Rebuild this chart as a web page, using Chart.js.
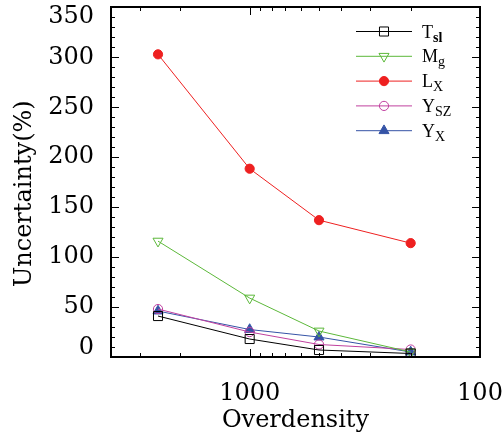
<!DOCTYPE html>
<html>
<head>
<meta charset="utf-8">
<script src="https://cdn.jsdelivr.net/npm/chart.js@4"></script>
<style>
  html, body { margin: 0; padding: 0; background: #fff; }
  canvas { display: block; }
</style>
</head>
<body>
<canvas id="chart" width="504" height="439"></canvas>
<script>
// values
const overdensity = [2500, 1000, 500, 200];
const tSl = [41, 18, 7, 3.5];
const mGas = [116, 59, 26, 5];
const lX = [303, 188.5, 137, 114];
const ySz = [48, 25, 12.5, 7.5];
const yX = [46, 27.5, 20, 5];

const labelMain = ["T", "M", "L", "Y", "Y"];
const labelSub = ["sl", "g", "X", "SZ", "X"];

const xTicks = [3000, 2000, 1000, 900, 800, 700, 600, 500, 400, 300, 200, 100];
const xLabels = [1000, 100];
const yLabelStep = 50;

const serif = "'DejaVu Serif', serif";
const open = "rgba(0,0,0,0)";

const series = (label, data, color, style, fill, radius, rotation) => ({
    label: label,
    data: data.map((v, i) => ({ x: overdensity[i], y: v })),
    borderColor: color,
    borderWidth: 1,
    pointStyle: style,
    pointRadius: radius,
    pointRotation: rotation || 0,
    pointBackgroundColor: fill,
    pointBorderColor: color,
    pointBorderWidth: 1,
    tension: 0,
});

const datasets = [
    series("Tsl", tSl, "#000000", "rect", open, 6.4),
    series("Mg", mGas, "#5cb83a", "triangle", open, 5.8, 180),
    series("LX", lX, "#ee2020", "circle", "#ee2020", 4.6),
    series("YSZ", ySz, "#c0409f", "circle", open, 4.6),
    series("YX", yX, "#3553a6", "triangle", "#3553a6", 5.8),
];

// box round the plot with inward ticks on all four sides, then the legend
const frame = {
    id: "frame",
    afterDraw(chart) {
        const ctx = chart.ctx;
        const x = chart.scales.x;
        const y = chart.scales.y;
        const L = Math.round(x.getPixelForValue(x.max)), R = Math.round(x.getPixelForValue(x.min));
        const T = Math.round(y.getPixelForValue(y.max)), B = Math.round(y.getPixelForValue(y.min));
        ctx.save();
        ctx.fillStyle = "#000";
        x.ticks.forEach(t => {
            const px = Math.round(x.getPixelForValue(t.value));
            const len = xLabels.includes(Math.round(t.value)) ? 8 : 4;
            ctx.fillRect(px, B - len, 1, len);
            ctx.fillRect(px, T, 1, len);
        });
        y.ticks.forEach(t => {
            const py = Math.round(y.getPixelForValue(t.value));
            const len = t.value % yLabelStep === 0 ? 8 : 4;
            ctx.fillRect(L, py, len, 1);
            ctx.fillRect(R - len, py, len, 1);
        });
        ctx.fillRect(L - 1, T - 1, R - L + 2, 2);
        ctx.fillRect(L - 1, B - 1, R - L + 2, 2);
        ctx.fillRect(L - 1, T - 1, 2, B - T + 2);
        ctx.fillRect(R - 1, T - 1, 2, B - T + 2);

        chart.data.datasets.forEach((ds, i) => {
            const yy = 31.5 + i * 24.8;
            ctx.strokeStyle = ds.borderColor;
            ctx.lineWidth = 1;
            ctx.beginPath();
            ctx.moveTo(356, yy);
            ctx.lineTo(412, yy);
            ctx.stroke();
            ctx.fillStyle = ds.pointBackgroundColor;
            Chart.helpers.drawPoint(ctx, {
                pointStyle: ds.pointStyle,
                radius: ds.pointRadius,
                rotation: ds.pointRotation,
                borderWidth: 1,
            }, 384, yy);
            ctx.fillStyle = "#000";
            ctx.textBaseline = "alphabetic";
            ctx.font = "18px 'Liberation Serif'";
            ctx.fillText(labelMain[i], 422, yy + 6);
            const w = ctx.measureText(labelMain[i]).width;
            ctx.font = (i === 0 ? "bold " : "") + "14px 'Liberation Serif'";
            ctx.fillText(labelSub[i], 422 + w, yy + 10);
        });
        ctx.restore();
    }
};

new Chart(document.getElementById("chart"), {
    type: "line",
    data: { datasets: datasets },
    options: {
        responsive: false,
        animation: false,
        devicePixelRatio: 1,
        layout: { padding: { top: 5, right: 24, left: 0, bottom: 0 } },
        plugins: { legend: { display: false }, tooltip: { enabled: false } },
        scales: {
            x: {
                type: "logarithmic",
                reverse: true,
                min: 100,
                max: 4000,
                afterBuildTicks: s => { s.ticks = xTicks.map(v => ({ value: v })); },
                afterFit: s => { s.height = 82; s.paddingLeft = 0; s.paddingRight = 0; },
                grid: { display: false },
                border: { display: false },
                ticks: {
                    autoSkip: false,
                    maxRotation: 0,
                    padding: 14,
                    color: "#000",
                    font: { family: serif, size: 24 },
                    callback: v => xLabels.includes(Math.round(v)) ? String(Math.round(v)) : "",
                },
                title: {
                    display: true,
                    text: "Overdensity",
                    color: "#000",
                    font: { family: serif, size: 24 },
                    padding: { top: 0, bottom: 4 },
                },
            },
            y: {
                min: 0,
                max: 350,
                afterFit: s => { s.width = 111; s.paddingTop = 0; s.paddingBottom = 0; },
                grid: { display: false },
                border: { display: false },
                ticks: {
                    stepSize: 10,
                    autoSkip: false,
                    padding: 9,
                    color: "#000",
                    font: { family: serif, size: 24, lineHeight: 0.75 },
                    callback: v => {
                        if (v % yLabelStep !== 0) return "";
                        if (v === 350) return ["", "350"];
                        if (v === 0) return ["0", ""];
                        return String(v);
                    },
                },
                title: {
                    display: true,
                    text: "Uncertainty(%)   ",
                    color: "#000",
                    font: { family: serif, size: 24 },
                    padding: { top: 10, bottom: 0 },
                },
            },
        },
    },
    plugins: [frame],
});
</script>
</body>
</html>
